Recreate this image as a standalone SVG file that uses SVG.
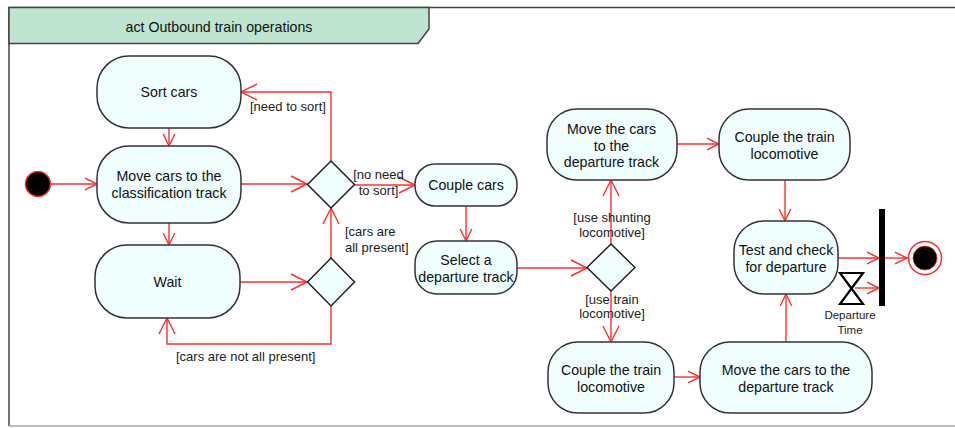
<svg xmlns="http://www.w3.org/2000/svg" width="955" height="428" viewBox="0 0 955 428">
<style>
  .node rect { fill: #f0fefe; stroke: #333; stroke-width: 1.5; }
  .dec { fill: #f0fefe; stroke: #222; stroke-width: 1.5; }
  .t { font-family: "Liberation Sans", Arial, sans-serif; font-size: 14.2px; fill: #111; text-anchor: middle; }
  .lbl { font-family: "Liberation Sans", Arial, sans-serif; font-size: 13px; fill: #222; }
  .c { fill: none; stroke: #ff2e2e; stroke-width: 1.4; marker-end: url(#arr); }
  .c.b { marker-end: url(#arrb); }
</style>
<defs>
  <marker id="arr" markerWidth="14" markerHeight="14" refX="13" refY="7" orient="auto" markerUnits="userSpaceOnUse" overflow="visible">
    <path d="M1,1.2 L13,7 L1,12.8" fill="none" stroke="#ff2e2e" stroke-width="1.4"/>
  </marker>
  <marker id="arrb" markerWidth="18" markerHeight="18" refX="16.5" refY="9" orient="auto" markerUnits="userSpaceOnUse" overflow="visible">
    <path d="M0.5,1 L16.5,9 L0.5,17" fill="none" stroke="#ff2e2e" stroke-width="1.4"/>
  </marker>
</defs>
<rect width="955" height="428" fill="#fff"/>
<g id="frame">
  <path d="M960,7.5 L9,7.5 L9,426" fill="none" stroke="#444" stroke-width="1.5"/>
  <path d="M9,426 L960,426" fill="none" stroke="#aaa" stroke-width="1.5"/>
  <polygon points="9,7.5 429,7.5 429,29 418,43.5 9,43.5" fill="#bfe4d2" stroke="#444" stroke-width="1.5"/>
  <text x="219" y="32" class="t" style="font-size:14.2px">act Outbound train operations</text>
</g>
<g id="connectors">
  <path class="c" d="M51,184 L97,184"/>
  <path class="c" d="M169,128 L169,146"/>
  <path class="c" d="M169,223 L169,245"/>
  <path class="c b" d="M241,184 L307,184"/>
  <path class="c b" d="M331,161 L331,92 L241,92"/>
  <path class="c b" d="M354,185 L415,185"/>
  <path class="c b" d="M331,258 L331,208"/>
  <path class="c b" d="M240,282 L307,282"/>
  <path class="c b" d="M331,306 L331,344 L167,344 L167,318"/>
  <path class="c" d="M466,206 L466,241"/>
  <path class="c b" d="M517,268 L587,268"/>
  <path class="c b" d="M611,244 L611,180"/>
  <path class="c b" d="M611,291 L611,342"/>
  <path class="c" d="M677,144 L719,144"/>
  <path class="c" d="M785,180 L785,221"/>
  <path class="c" d="M674,377 L700,377"/>
  <path class="c" d="M786,342 L786,294"/>
  <path class="c" d="M838,258 L879,258"/>
  <path class="c" d="M855,288 L879,288"/>
  <path class="c" d="M885,258 L907,258"/>
  <text x="250" y="110.5" class="lbl">[need to sort]</text>
  <text x="378.5" y="178.5" class="lbl" text-anchor="middle">[no need</text>
  <text x="378.5" y="194.5" class="lbl" text-anchor="middle">to sort]</text>
  <text x="345" y="236" class="lbl">[cars are</text>
  <text x="345" y="252" class="lbl">all present]</text>
  <text x="176" y="361" class="lbl">[cars are not all present]</text>
  <text x="612" y="221.5" class="lbl" text-anchor="middle">[use shunting</text>
  <text x="612" y="236.5" class="lbl" text-anchor="middle">locomotive]</text>
  <text x="612" y="303.5" class="lbl" text-anchor="middle">[use train</text>
  <text x="612" y="317.5" class="lbl" text-anchor="middle">locomotive]</text>
</g>
<g id="initial"><circle cx="38" cy="184" r="12.5" fill="#000" stroke="#ff2e2e" stroke-width="1.5"/></g>
<g id="sort-cars" class="node">
  <rect x="97" y="56" width="144" height="72" rx="32"/>
  <text x="169" y="97" class="t">Sort cars</text>
</g>
<g id="move-classification" class="node">
  <rect x="97" y="146" width="144" height="77" rx="32"/>
  <text x="169" y="181" class="t">Move cars to the</text>
  <text x="169" y="198" class="t">classification track</text>
</g>
<g id="wait" class="node">
  <rect x="95" y="245" width="145" height="73" rx="32"/>
  <text x="167.5" y="287" class="t">Wait</text>
</g>
<g id="decision1"><polygon class="dec" points="331,161 354.5,184.5 331,208 307.5,184.5"/></g>
<g id="decision2"><polygon class="dec" points="331,258 354.5,282 331,306 307.5,282"/></g>
<g id="couple-cars" class="node">
  <rect x="415" y="164" width="102" height="42" rx="20"/>
  <text x="466" y="190" class="t">Couple cars</text>
</g>
<g id="select-track" class="node">
  <rect x="415" y="241" width="102" height="53" rx="22"/>
  <text x="466" y="265" class="t">Select a</text>
  <text x="466" y="282" class="t">departure track</text>
</g>
<g id="decision3"><polygon class="dec" points="611,244 635,267.5 611,291 587,267.5"/></g>
<g id="move-departure-upper" class="node">
  <rect x="547" y="109" width="130" height="71" rx="30"/>
  <text x="611.5" y="134" class="t">Move the cars</text>
  <text x="611.5" y="151" class="t">to the</text>
  <text x="611.5" y="167" class="t">departure track</text>
</g>
<g id="couple-loco-upper" class="node">
  <rect x="719" y="109" width="131" height="71" rx="30"/>
  <text x="784.5" y="142" class="t">Couple the train</text>
  <text x="784.5" y="159" class="t">locomotive</text>
</g>
<g id="test-check" class="node">
  <rect x="734" y="221" width="104" height="73" rx="30"/>
  <text x="786" y="255" class="t">Test and check</text>
  <text x="786" y="272" class="t">for departure</text>
</g>
<g id="couple-loco-lower" class="node">
  <rect x="548" y="342" width="126" height="71" rx="30"/>
  <text x="611" y="375" class="t">Couple the train</text>
  <text x="611" y="392" class="t">locomotive</text>
</g>
<g id="move-departure-lower" class="node">
  <rect x="700" y="342" width="172" height="71" rx="30"/>
  <text x="786" y="375" class="t">Move the cars to the</text>
  <text x="786" y="392" class="t">departure track</text>
</g>
<g id="join-bar"><rect x="879" y="209" width="6" height="97" fill="#000"/></g>
<g id="departure-time">
  <path d="M840,273 L863,273 L840,304 L863,304 Z" fill="#fff" stroke="#000" stroke-width="2.2" stroke-linejoin="miter"/>
  <text x="850" y="319" class="lbl" text-anchor="middle" style="font-size:11.5px">Departure</text>
  <text x="850" y="334" class="lbl" text-anchor="middle" style="font-size:11.5px">Time</text>
</g>
<g id="final">
  <circle cx="925" cy="258" r="16.5" fill="#fff" stroke="#ff2e2e" stroke-width="1.5"/>
  <circle cx="925" cy="258" r="12" fill="#000" stroke="#ff2e2e" stroke-width="0.8"/>
</g>
</svg>
